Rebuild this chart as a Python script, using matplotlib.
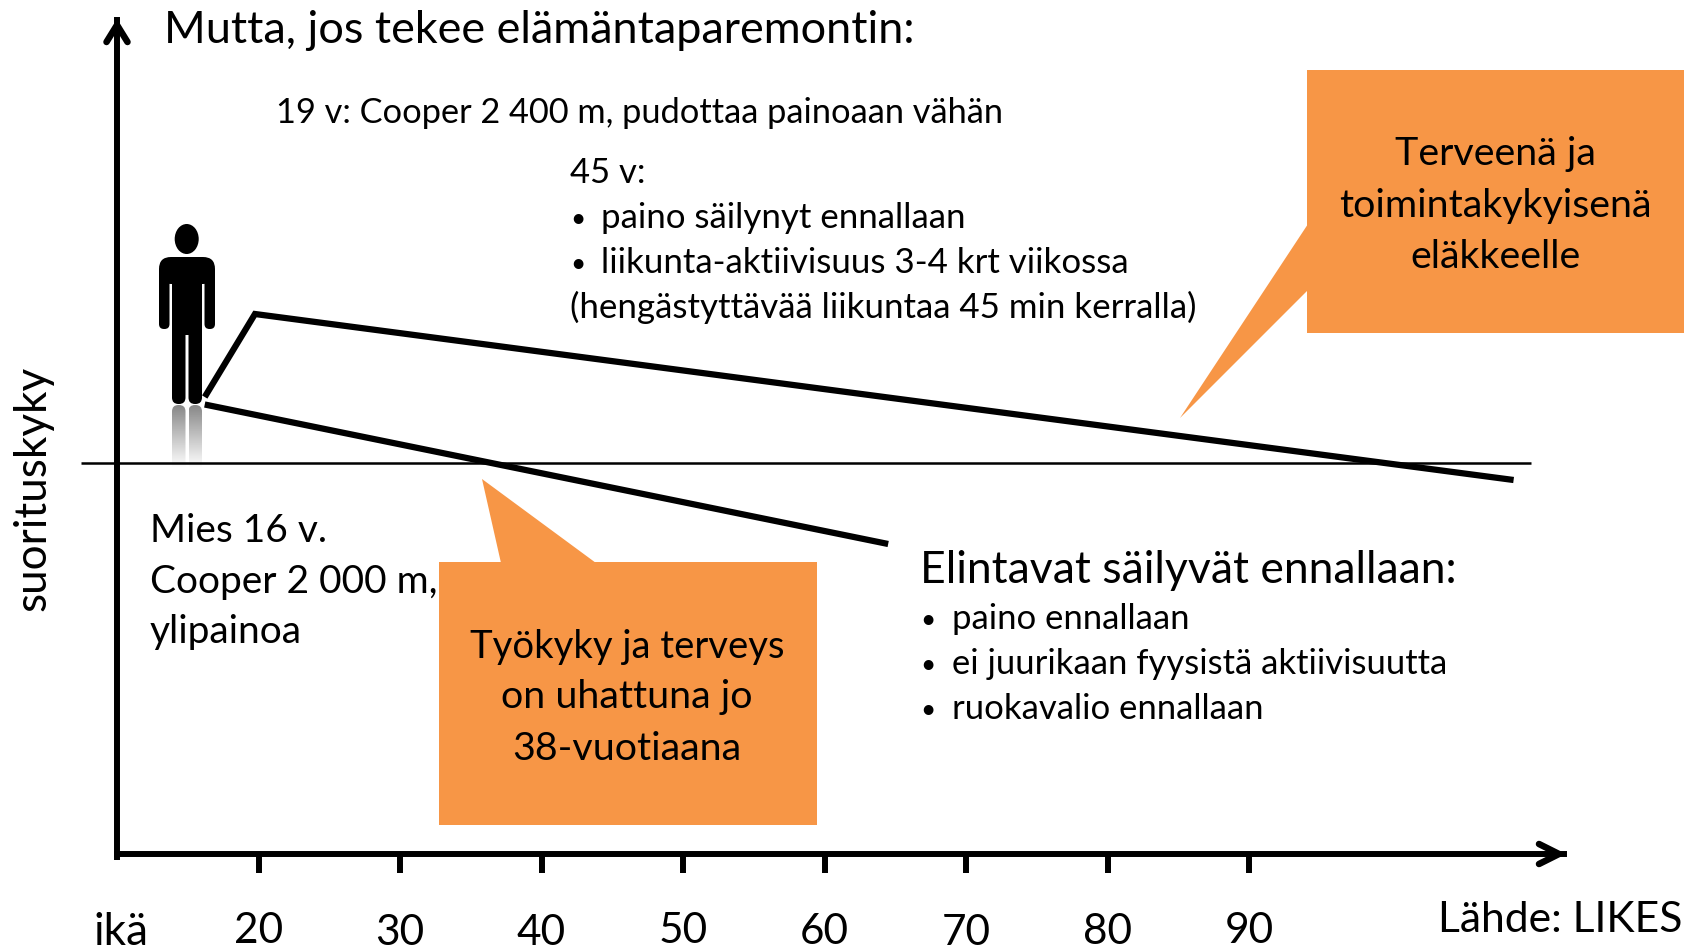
import numpy as np
import matplotlib
matplotlib.use("Agg")
import matplotlib.pyplot as plt
from matplotlib.patches import FancyBboxPatch, Ellipse, Polygon, Rectangle

plt.rcParams['font.family'] = ['Lato', 'DejaVu Sans']

# age on x, performance on y (0 = the threshold line)
tick_ages = [20, 30, 40, 50, 60, 70, 80, 90]
tick_labels = ['20', '30', '40', '50', '60', '70', '80', '90']
improved_age = [16.2, 19.75, 108.7]
improved_perf = [66, 149, -17]
unchanged_age = [16.2, 64.5]
unchanged_perf = [58.5, -81]
threshold_age = [7.46, 109.9]
threshold_perf = [0, 0]

W, H = 1696, 950
ORANGE = '#F79646'

fig = plt.figure(figsize=(W / 100, H / 100), dpi=100, facecolor='white')

# overlay in pixels for callouts, text and the figure
px = fig.add_axes([0, 0, 1, 1])
px.set_xlim(0, W)
px.set_ylim(H, 0)
px.axis('off')

# chart axes: left spine at 117 px, bottom spine at 854 px
left, right, top, bottom = 117, 1564, 20, 854
ax = fig.add_axes([left / W, 1 - bottom / H, (right - left) / W, (bottom - top) / H])
ax.patch.set_visible(False)
ax.set_xlim(10, 10 + (right - left) / 14.15)
ax.set_ylim(-391, 443)
ax.spines['top'].set_visible(False)
ax.spines['right'].set_visible(False)
ax.spines['left'].set_linewidth(4.3)
ax.spines['bottom'].set_linewidth(4.3)
ax.set_yticks([])
ax.set_xticks(tick_ages)
ax.set_xticklabels(tick_labels, fontsize=30.5)
ax.tick_params(axis='x', length=13.5, width=4.3)
pads = [28.5, 29.5, 29.5, 28.5, 29, 29.5, 29, 28.5]
for tick, pad in zip(ax.xaxis.get_major_ticks(), pads):
    tick.set_pad(pad)

ax.plot(threshold_age, threshold_perf, color='black', lw=1.8, clip_on=False, solid_capstyle='butt')
ax.plot(improved_age, improved_perf, color='black', lw=4.5, clip_on=False,
        solid_capstyle='butt', solid_joinstyle='miter')
ax.plot(unchanged_age, unchanged_perf, color='black', lw=4.5, clip_on=False, solid_capstyle='butt')

# arrow heads and the little overshoot of the y axis
px.plot([106.5, 117, 127.5], [42, 25, 42], color='black', lw=4.7, solid_joinstyle='miter',
        solid_capstyle='round', zorder=5)
px.plot([1539, 1559, 1539], [844, 854, 864], color='black', lw=4.7, solid_joinstyle='miter',
        solid_capstyle='round', zorder=5)
px.plot([117, 117], [854, 860], color='black', lw=4.3, solid_capstyle='butt', zorder=5)

# callouts
px.add_patch(Rectangle((1307, 70), 377, 263, color=ORANGE, lw=0))
px.add_patch(Polygon([(1308, 224), (1180, 418), (1308, 290)], color=ORANGE, lw=0))
px.add_patch(Rectangle((439, 562), 378, 263, color=ORANGE, lw=0))
px.add_patch(Polygon([(501, 563), (482, 479), (596, 563)], color=ORANGE, lw=0))


def rbox(x0, y0, x1, y1, r, **kw):
    return FancyBboxPatch((x0 + r, y0 + r), x1 - x0 - 2 * r, y1 - y0 - 2 * r,
                          boxstyle=f"round,pad={r},rounding_size={r}", lw=0, **kw)


# person
px.add_patch(Ellipse((186.7, 239), 24, 30, color='black', lw=0))
px.add_patch(rbox(159, 257, 215, 284, 12, color='black'))
px.add_patch(rbox(159, 268, 169.5, 329, 5, color='black'))
px.add_patch(rbox(204.5, 268, 215, 329, 5, color='black'))
px.add_patch(Rectangle((172, 260), 30, 75, color='black', lw=0))
px.add_patch(rbox(172, 320, 185.5, 404, 6.5, color='black'))
px.add_patch(rbox(188.5, 320, 202, 404, 6.5, color='black'))
# reflection of the legs
fade = np.zeros((64, 2, 4))
fade[..., :3] = 0.45
fade[..., 3] = np.linspace(0.85, 0, 64)[:, None]
for x0, x1 in [(172, 185.5), (188.5, 202)]:
    im = px.imshow(fade, extent=(x0, x1, 468, 405), aspect='auto', interpolation='bilinear', zorder=1)
    clip = rbox(x0, 405, x1, 480, 6.5, facecolor='none')
    px.add_patch(clip)
    im.set_clip_path(clip)
px.set_xlim(0, W)
px.set_ylim(H, 0)


def put(x, y, s, size, **kw):
    px.text(x, y, s, fontsize=size, va='baseline', color='black', **kw)


title = 32.4
big = 32
mid = 28.4
small = 24.9
dot = 19

put(164.5, 43, "Mutta, jos tekee elämäntaparemontin:", title)
put(276, 123, "19 v: Cooper 2 400 m, pudottaa painoaan vähän", 24.75)
put(570, 183, "45 v:", small)
put(570, 227, "•", dot)
put(601, 228, "paino säilynyt ennallaan", 25.1)
put(570, 272, "•", dot)
put(601, 273, "liikunta-aktiivisuus 3-4 krt viikossa", 25.1)
put(570, 318, "(hengästyttävää liikuntaa 45 min kerralla)", 25.1)

for y, s in zip([165, 217, 268], ["Terveenä ja", "toimintakykyisenä", "eläkkeelle"]):
    put(1495, y, s, mid, ha='center')
for y, s, size in zip([658, 708, 760], ["Työkyky ja terveys", "on uhattuna jo", "38-vuotiaana"], [27.5, mid, mid]):
    put(627, y, s, size, ha='center')
for y, s in zip([542, 593, 643], ["Mies 16 v.", "Cooper 2 000 m,", "ylipainoa"]):
    put(150, y, s, 28)

put(920, 583, "Elintavat säilyvät ennallaan:", big)
for y, s in zip([629, 674, 719], ["paino ennallaan", "ei juurikaan fyysistä aktiivisuutta", "ruokavalio ennallaan"]):
    put(920, y - 1, "•", dot)
    put(952, y, s, small)

px.text(45.5, 488, "suorituskyky", fontsize=31.7, rotation=90, va='baseline', ha='center', color='black',
        rotation_mode='anchor')
put(93, 945, "ikä", 31.7)
put(1438, 932, "Lähde: LIKES", 30.7)

plt.savefig("out.png", dpi=100)
